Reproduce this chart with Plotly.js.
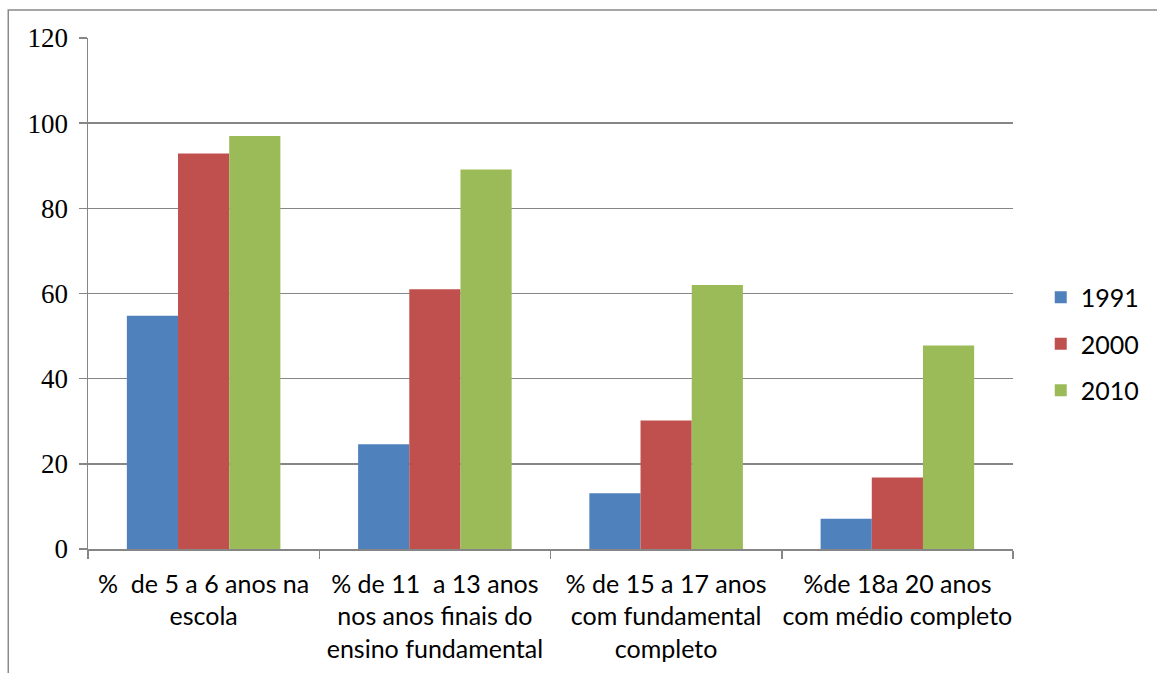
<!DOCTYPE html>
<html>
<head>
<meta charset="utf-8">
<script src="https://cdn.plot.ly/plotly-3.0.1.min.js"></script>
<style>html,body{margin:0;padding:0;background:#fff;}#chart{width:1157px;height:673px;}</style>
</head>
<body>
<div id="chart"></div>
<script>
var categories = [
  "%\u00a0 de 5 a 6 anos na<br>escola",
  "% de 11\u00a0 a 13 anos<br>nos anos finais do<br>ensino fundamental",
  "% de 15 a 17 anos<br>com fundamental<br>completo",
  "%de 18a 20 anos<br>com médio completo"
];
var seriesNames = ["1991", "2000", "2010"];
var values1991 = [54.8, 24.6, 13.1, 7.1];
var values2000 = [92.9, 61.0, 30.2, 16.8];
var values2010 = [97.0, 89.1, 62.0, 47.8];
var colors = ["#4F81BD", "#C0504D", "#9BBB59"];

var allValues = [values1991, values2000, values2010];
var traces = seriesNames.map(function(name, i) {
  return {
    type: "bar",
    name: name,
    x: categories,
    y: allValues[i],
    marker: {color: colors[i], line: {width: 0}},
    legendgroup: name
  };
});

var layout = {
  width: 1157,
  height: 673,
  margin: {l: 88, r: 141, t: 38, b: 124, pad: 0},
  paper_bgcolor: "#ffffff",
  plot_bgcolor: "#ffffff",
  barmode: "group",
  bargap: 0.336,
  bargroupgap: 0,
  showlegend: true,
  legend: {
    x: 1.03, xanchor: "left",
    y: 0.401, yanchor: "middle",
    font: {family: "Lato, Carlito, sans-serif", size: 25, color: "#000"},
    tracegroupgap: 11,
    itemwidth: 30,
    bgcolor: "rgba(0,0,0,0)"
  },
  xaxis: {
    type: "category",
    showgrid: false,
    showline: true,
    linecolor: "#868686",
    linewidth: 1.5,
    ticks: "outside",
    tickson: "boundaries",
    ticklen: 8,
    tickcolor: "#868686",
    tickwidth: 1.5,
    tickangle: 0,
    tickfont: {family: "Lato, Carlito, sans-serif", size: 25, color: "#000"},
    ticklabelstandoff: 12,
    fixedrange: true
  },
  yaxis: {
    range: [0, 120],
    tickvals: [0, 20, 40, 60, 80, 100, 120],
    showgrid: true,
    gridcolor: "#868686",
    gridwidth: 1.5,
    zeroline: false,
    showline: true,
    linecolor: "#868686",
    linewidth: 1.5,
    ticks: "outside",
    ticklen: 8,
    tickcolor: "#868686",
    tickwidth: 1.5,
    tickfont: {family: "'Liberation Serif', 'Times New Roman', serif", size: 27, color: "#000"},
    ticklabelstandoff: 5,
    fixedrange: true
  },
  shapes: [{
    type: "rect", xref: "paper", yref: "paper",
    x0: -0.0862, x1: 1.3, y0: -0.5, y1: 1.0548,
    line: {color: "#898989", width: 1.5},
    fillcolor: "rgba(0,0,0,0)",
    layer: "below"
  }]
};

Plotly.newPlot("chart", traces, layout, {staticPlot: true, displayModeBar: false});
</script>
</body>
</html>
